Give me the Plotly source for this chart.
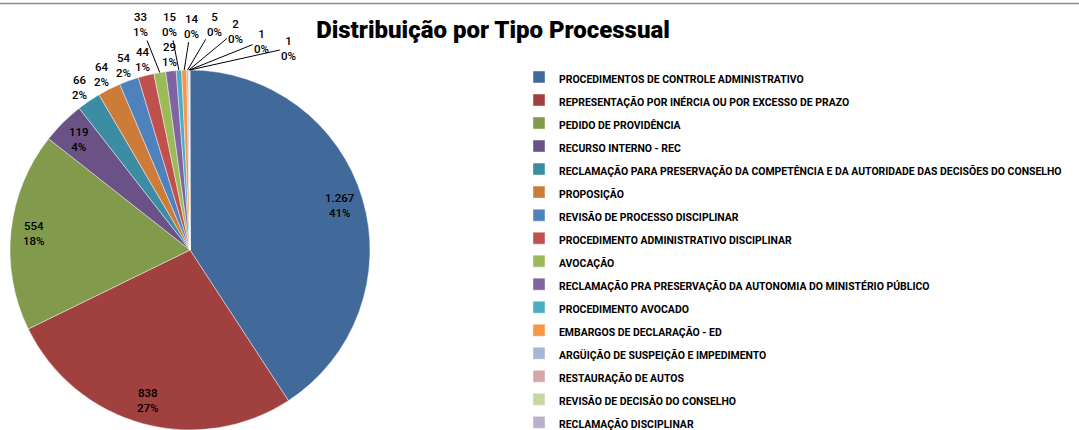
import math
import plotly.graph_objects as go

# ---------------- data ----------------
categories = [
    "PROCEDIMENTOS DE CONTROLE ADMINISTRATIVO",
    "REPRESENTAÇÃO POR INÉRCIA OU POR EXCESSO DE PRAZO",
    "PEDIDO DE PROVIDÊNCIA",
    "RECURSO INTERNO - REC",
    "RECLAMAÇÃO PARA PRESERVAÇÃO DA COMPETÊNCIA E DA AUTORIDADE DAS DECISÕES DO CONSELHO",
    "PROPOSIÇÃO",
    "REVISÃO DE PROCESSO DISCIPLINAR",
    "PROCEDIMENTO ADMINISTRATIVO DISCIPLINAR",
    "AVOCAÇÃO",
    "RECLAMAÇÃO PRA PRESERVAÇÃO DA AUTONOMIA DO MINISTÉRIO PÚBLICO",
    "PROCEDIMENTO AVOCADO",
    "EMBARGOS DE DECLARAÇÃO - ED",
    "ARGÜIÇÃO DE SUSPEIÇÃO E IMPEDIMENTO",
    "RESTAURAÇÃO DE AUTOS",
    "REVISÃO DE DECISÃO DO CONSELHO",
    "RECLAMAÇÃO DISCIPLINAR",
]
values = [1267, 838, 554, 119, 66, 64, 54, 44, 33, 29, 15, 14, 5, 2, 1, 1]
title_text = "Distribuição por Tipo Processual"

# ---------------- style ----------------
colors = [
    "#416A9B", "#A0413F", "#829A4B", "#6A5287", "#3C8CA3", "#CC7C38",
    "#4F81BD", "#C0504D", "#9BBB59", "#8064A2", "#4BACC6", "#F79646",
    "#A6B7D6", "#D8A6A5", "#C6D6A5", "#BAAFCD",
]
W, H = 1079, 430
CX, CY, R = 190, 250, 180
FONT = "Roboto, DejaVu Sans Condensed, sans-serif"
# label placement mode per slice: inside, outside, or with a leader line
label_mode = ["in", "in", "in", "in", "out", "out", "out", "out",
              "lead", "out", "lead", "lead", "lead", "lead", "lead", "lead"]
leader_offsets = {8: (-19, -48), 10: (-9, -46), 11: (7, -44), 12: (27, -46),
                  13: (47, -39), 14: (72, -29), 15: (99, -22)}

total = sum(values)


def fmt_num(v):
    return f"{v:,}".replace(",", ".")


def px_to_paper(x, y):
    return x / W, 1 - y / H


legend_labels = [f"<span style='font-size:10.45px'>{c}</span>" for c in categories]

fig = go.Figure(
    go.Pie(
        labels=legend_labels,
        values=values,
        sort=False,
        direction="clockwise",
        rotation=0,
        marker=dict(colors=colors, line=dict(color="rgba(255,255,255,0.55)", width=0.8)),
        textinfo="none",
        hovertemplate="%{label}<br>%{value} (%{percent})<extra></extra>",
        domain=dict(x=[(CX - R) / W, (CX + R) / W], y=[1 - (CY + R) / H, 1 - (CY - R) / H]),
    )
)

annotations = []
cum = 0
for i, v in enumerate(values):
    theta = 2 * math.pi * (cum + v / 2) / total
    cum += v
    txt = f"{fmt_num(v)}<br>{round(v / total * 100)}%"
    font = dict(family=FONT, size=11.5, color="black", weight=500)
    mode = label_mode[i]
    if mode in ("in", "out"):
        r = R * (0.87 if mode == "in" else 1.09)
        x, y = px_to_paper(CX + r * math.sin(theta), CY - r * math.cos(theta))
        annotations.append(dict(x=x, y=y, xref="paper", yref="paper", text=txt,
                                showarrow=False, font=font, xanchor="center", yanchor="middle"))
    else:
        x, y = px_to_paper(CX + R * math.sin(theta), CY - R * math.cos(theta))
        ax, ay = leader_offsets[i]
        annotations.append(dict(x=x, y=y, xref="paper", yref="paper", text=txt,
                                showarrow=True, arrowhead=0, arrowwidth=1, arrowcolor="black",
                                ax=ax, ay=ay, font=font, standoff=0))

fig.update_layout(
    width=W,
    height=H,
    margin=dict(l=0, r=0, t=0, b=0, autoexpand=False),
    paper_bgcolor="white",
    plot_bgcolor="white",
    showlegend=True,
    title=dict(text=title_text, x=493 / W, xanchor="center",
               y=1 - 30 / H, yanchor="middle",
               font=dict(family=FONT, size=24, color="black", weight=900)),
    legend=dict(x=519 / W, y=1 - 60.5 / H, xanchor="left", yanchor="top",
                font=dict(family=FONT, size=15.4, color="black", weight="bold"),
                bgcolor="rgba(0,0,0,0)", traceorder="normal"),
    annotations=annotations,
    shapes=[dict(type="line", xref="paper", yref="paper", x0=0, x1=1,
                 y0=1 - 3.5 / H, y1=1 - 3.5 / H, line=dict(color="#8a8a8a", width=1.5))],
)

fig.write_html("out.html", config={"displayModeBar": False},
               post_script="document.body.style.margin='0';")
